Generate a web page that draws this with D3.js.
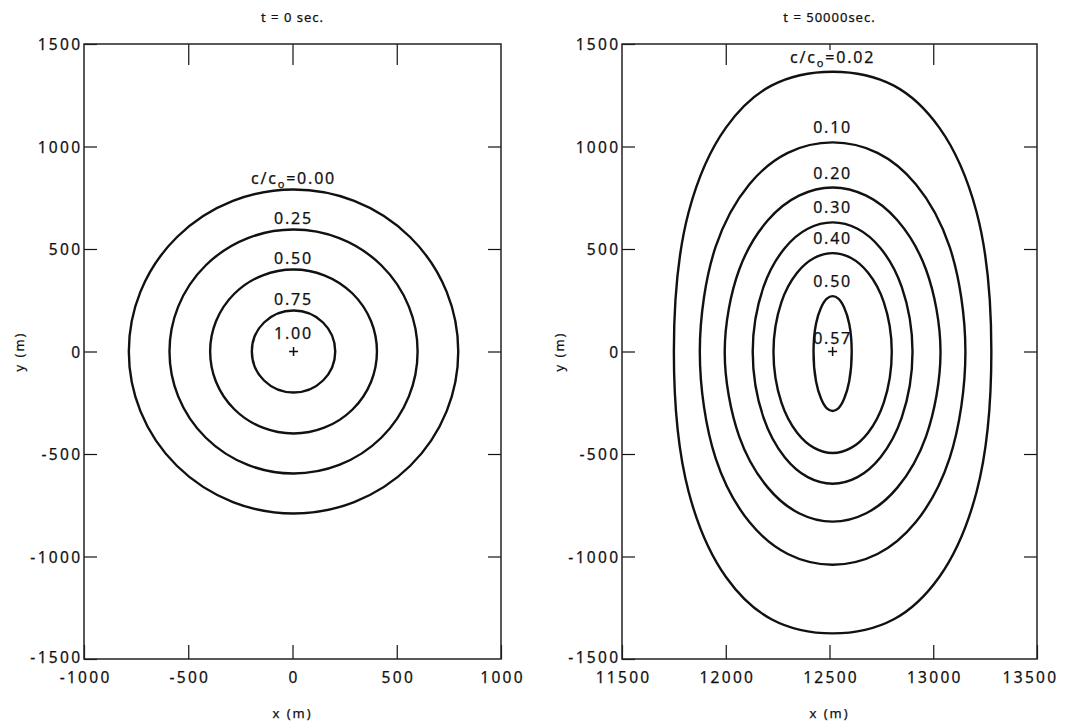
<!DOCTYPE html>
<html>
<head>
<meta charset="utf-8">
<script src="https://cdn.jsdelivr.net/npm/d3@7"></script>
<style>
    body { margin: 0; background: #fff; }
    text { font-family: "Noto Sans", sans-serif; fill: #111; stroke: #111; stroke-width: 0.25px; }
    .tick text { font-size: 15.5px; letter-spacing: 2.3px; }
    .tick line { stroke: #111; stroke-width: 1.2; }
    .contour { fill: none; stroke: #111; stroke-width: 2.4; }
    .clabel { font-size: 16px; letter-spacing: 1.8px; text-anchor: middle; }
</style>
</head>
<body>
<svg id="chart" width="1065" height="722"></svg>
<script>
// ---- data ----
var yTicks = [-1500, -1000, -500, 0, 500, 1000, 1500];
var xTicksLeft = [-1000, -500, 0, 500, 1000];
var xTicksRight = [11500, 12000, 12500, 13000, 13500];
var titles = ["t = 0 sec.", "t = 50000sec."];

// t = 0: concentric circles around the source
var sourceLeft = [5, 0];
var peakLeft = "1.00";
var circleLevels = ["0.00", "0.25", "0.50", "0.75"];
var circleRadii = [790, 595, 400, 200];

// t = 50000: contours (x, y in m)
var sourceRight = [12515, 0];
var peakRight = "0.57";
var plumeLevels = ["0.02", "0.10", "0.20", "0.30", "0.40", "0.50"];
var plume002 = [[12515, 1365], [12810, 1297], [13029, 1092], [13208, 683], [13280, 0],
    [13208, -688], [13029, -1100], [12810, -1306], [12515, -1375], [12220, -1306],
    [12001, -1100], [11822, -688], [11750, 0], [11822, 683], [12001, 1092], [12220, 1297]];
var plume010 = [[12515, 1020], [12731, 969], [12916, 816], [13079, 510], [13155, 0],
    [13079, -520], [12916, -832], [12731, -988], [12515, -1040], [12299, -988],
    [12114, -832], [11951, -520], [11875, 0], [11951, 510], [12114, 816], [12299, 969]];
var plume020 = [[12515, 800], [12677, 760], [12827, 640], [12965, 400], [13035, 0],
    [12965, -415], [12827, -664], [12677, -789], [12515, -830], [12353, -789],
    [12203, -664], [12065, -415], [11995, 0], [12065, 400], [12203, 640], [12353, 760]];
var plume030 = [[12515, 630], [12635, 599], [12746, 504], [12848, 315], [12900, 0],
    [12848, -323], [12746, -516], [12635, -613], [12515, -645], [12395, -613],
    [12284, -516], [12182, -323], [12130, 0], [12182, 315], [12284, 504], [12395, 599]];
var plume040 = [[12515, 480], [12604, 456], [12686, 384], [12762, 240], [12800, 0],
    [12762, -248], [12686, -396], [12604, -470], [12515, -495], [12426, -470],
    [12344, -396], [12268, -248], [12230, 0], [12268, 240], [12344, 384], [12426, 456]];
var plume050 = [[12515, 270], [12544, 257], [12570, 216], [12595, 135], [12607, 0],
    [12595, -145], [12570, -232], [12544, -276], [12515, -290], [12486, -276],
    [12460, -232], [12435, -145], [12423, 0], [12435, 135], [12460, 216], [12486, 257]];
var plumes = [plume002, plume010, plume020, plume030, plume040, plume050];

// ---- layout ----
var boxTop = 44, boxBottom = 659;
var svg = d3.select('#chart');
var plain = function(d) { return String(d); };

function drawPanel(x0, x1, xDomain, xTicks, title, yLabelX) {
    var x = d3.scaleLinear().domain(xDomain).range([x0, x1]);
    var y = d3.scaleLinear().domain([yTicks[0], yTicks[yTicks.length - 1]]).range([boxBottom, boxTop]);
    var g = svg.append('g');

    // inward ticks on all four sides
    g.append('g')
        .attr('transform', 'translate(' + x0 + ',0)')
        .call(d3.axisLeft(y).tickValues(yTicks).tickFormat(plain).tickSizeInner(-13).tickSizeOuter(0).tickPadding(4))
        .call(function(a) { a.select('.domain').remove(); })
        .selectAll('.tick text')
        .attr('dx', '2.3px')
        .attr('dy', function(d) { return d == yTicks[0] ? '0.2em' : '0.36em'; });
    g.append('g')
        .attr('transform', 'translate(' + x1 + ',0)')
        .call(d3.axisRight(y).tickValues(yTicks.slice(1, -1)).tickSizeInner(-13).tickSizeOuter(0).tickFormat(''))
        .call(function(a) { a.select('.domain').remove(); });
    g.append('g')
        .attr('class', 'top-axis')
        .attr('transform', 'translate(0,' + boxTop + ')')
        .call(d3.axisTop(x).tickValues(xTicks.slice(1, -1)).tickSizeInner(-21).tickSizeOuter(0).tickFormat(''))
        .call(function(a) { a.select('.domain').remove(); });
    g.append('g')
        .attr('class', 'bottom-axis')
        .attr('transform', 'translate(0,' + boxBottom + ')')
        .call(d3.axisBottom(x).tickValues(xTicks).tickFormat(plain).tickSizeInner(-14).tickSizeOuter(0).tickPadding(13))
        .call(function(a) { a.select('.domain').remove(); })
        .selectAll('.tick text')
        .attr('dx', '1.1px');

    g.append('rect')
        .attr('x', x0)
        .attr('y', boxTop)
        .attr('width', x1 - x0)
        .attr('height', boxBottom - boxTop)
        .style('fill', 'none')
        .style('stroke', '#222')
        .style('stroke-width', 1.5);

    g.append('text')
        .attr('x', (x0 + x1) / 2)
        .attr('y', 22)
        .style('text-anchor', 'middle')
        .style('font-size', '13px')
        .style('letter-spacing', '1px')
        .text(title);
    g.append('text')
        .attr('x', (x0 + x1) / 2)
        .attr('y', 718)
        .style('text-anchor', 'middle')
        .style('font-size', '13px')
        .style('letter-spacing', '2px')
        .text('x (m)');
    g.append('text')
        .attr('transform', 'translate(' + yLabelX + ',' + y(0) + ') rotate(-90)')
        .style('text-anchor', 'middle')
        .style('font-size', '13px')
        .style('letter-spacing', '2px')
        .text('y (m)');

    return { g: g, x: x, y: y };
}

function drawSource(p, src, label, lift) {
    var cx = p.x(src[0]), cy = p.y(src[1]);
    p.g.append('path')
        .attr('d', 'M' + (cx - 4.5) + ',' + cy + 'H' + (cx + 4.5) + 'M' + cx + ',' + (cy - 4.5) + 'V' + (cy + 4.5))
        .style('stroke', '#111')
        .style('stroke-width', 1.5);
    p.g.append('text')
        .attr('class', 'clabel')
        .attr('x', cx)
        .attr('y', cy - lift)
        .text(label);
}

function levelLabel(p, xp, yp, level, first) {
    var t = p.g.append('text')
        .attr('class', 'clabel')
        .attr('x', xp)
        .attr('y', yp);
    if (first) {
        t.append('tspan').text('c/c');
        t.append('tspan').attr('dy', 4).style('font-size', '11px').text('o');
        t.append('tspan').attr('dy', -4).text('=' + level);
    } else {
        t.text(level);
    }
}

// ---- left panel ----
var left = drawPanel(84, 501, [-1000, 1000], xTicksLeft, titles[0], 24);
left.g.selectAll('.ring')
    .data(circleRadii)
    .enter()
    .append('ellipse')
    .attr('class', 'contour')
    .attr('cx', left.x(sourceLeft[0]))
    .attr('cy', left.y(sourceLeft[1]))
    .attr('rx', function(r) { return left.x(sourceLeft[0] + r) - left.x(sourceLeft[0]); })
    .attr('ry', function(r) { return left.y(sourceLeft[1]) - left.y(sourceLeft[1] + r); });
circleLevels.forEach(function(lv, i) {
    levelLabel(left, left.x(sourceLeft[0]), left.y(sourceLeft[1] + circleRadii[i]) - 6, lv, i == 0);
});
drawSource(left, sourceLeft, peakLeft, 13);

// ---- right panel ----
var right = drawPanel(622, 1037, [11500, 13500], xTicksRight, titles[1], 564);
right.g.select('.top-axis').selectAll('.tick')
    .filter(function(d) { return d == 12500; })
    .select('line')
    .attr('y2', 6);
// keep the last label inside the window
right.g.select('.bottom-axis').selectAll('.tick text')
    .filter(function(d) { return d == 13500; })
    .attr('dx', '-7px');
var line = d3.line()
    .x(function(d) { return right.x(d[0]); })
    .y(function(d) { return right.y(d[1]); })
    .curve(d3.curveCatmullRomClosed.alpha(0.5));
right.g.selectAll('.plume')
    .data(plumes)
    .enter()
    .append('path')
    .attr('class', 'contour')
    .attr('d', line);
plumeLevels.forEach(function(lv, i) {
    var topY = d3.max(plumes[i], function(d) { return d[1]; });
    levelLabel(right, right.x(sourceRight[0]), right.y(topY) - 9, lv, i == 0);
});
drawSource(right, sourceRight, peakRight, 8);
</script>
</body>
</html>
